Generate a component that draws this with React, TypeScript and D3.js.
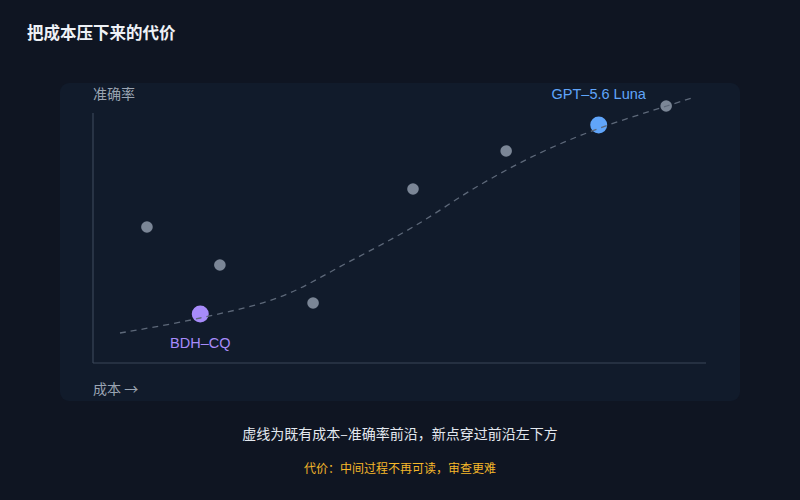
import React from 'react';
import * as d3 from 'd3';

// cost (x) vs accuracy (y), arbitrary 0-100 units
const otherCost: number[] = [8.8, 20.7, 35.9, 52.2, 67.4, 93.5];
const otherAcc: number[] = [54.4, 39.2, 24, 69.6, 84.8, 102.8];

const highlightNames: string[] = ['BDH–CQ', 'GPT–5.6 Luna'];
const highlightCost: number[] = [17.5, 82.5];
const highlightAcc: number[] = [19.6, 95.2];
const highlightColors: string[] = ['#a78bfa', '#60a5fa'];

// existing cost–accuracy frontier (dashed)
const frontierCost: number[] = [4.4, 17.5, 30.5, 41.4, 52.2, 63.1, 72.9, 82.7, 93.6, 97.7];
const frontierAcc: number[] = [12, 18, 26.4, 40, 54.4, 71.2, 84, 94, 102.8, 106];

const title = '把成本压下来的代价';
const yLabel = '准确率';
const xLabel = '成本 →';
const caption = '虚线为既有成本–准确率前沿，新点穿过前沿左下方';
const note = '代价：中间过程不再可读，审查更难';

const W = 800;
const H = 500;
const font = '"Noto Sans CJK SC", "Noto Sans", sans-serif';
const latin = '"Liberation Sans", Arial, sans-serif';

function App() {
    const x = d3.scaleLinear().domain([0, 100]).range([93, 706]);
    const y = d3.scaleLinear().domain([0, 100]).range([363, 113]);

    const frontier = d3.line<number>()
        .x((d, i) => x(frontierCost[i]))
        .y((d) => y(d))
        .curve(d3.curveCatmullRom.alpha(0.5))(frontierAcc);

    return (
        <svg width={W} height={H} style={{ position: 'absolute', left: 0, top: 0, display: 'block' }}
            fontFamily={font}>
            <rect width={W} height={H} fill="#0f1522" />
            <text x={27} y={39} fill="#eef1f6" fontSize={16.5} fontWeight={700}>{title}</text>

            <rect x={60} y={83} width={680} height={318} rx={9} fill="#111b2b" />

            {/* axes */}
            <line x1={x(0)} x2={x(0)} y1={113} y2={y(0)} stroke="#3a4658" strokeWidth={1.2} />
            <line x1={x(0)} x2={x(100)} y1={y(0)} y2={y(0)} stroke="#3a4658" strokeWidth={1.2} />
            <text x={93} y={99} fill="#9aa4b2" fontSize={14}>{yLabel}</text>
            <text x={93} y={394} fill="#9aa4b2" fontSize={14}>{xLabel}</text>

            {otherCost.map((c, i) => (
                <circle key={i} cx={x(c)} cy={y(otherAcc[i])} r={5.8} fill="#7b8696" />
            ))}
            {highlightCost.map((c, i) => (
                <circle key={highlightNames[i]} cx={x(c)} cy={y(highlightAcc[i])} r={8.5} fill={highlightColors[i]} />
            ))}

            <path d={frontier ?? ''} fill="none" stroke="#5d6879" strokeWidth={1.3} strokeDasharray="6 5" />

            {highlightCost.map((c, i) => (
                <text key={highlightNames[i]} x={x(c)} y={i === 0 ? y(highlightAcc[i]) + 34 : y(highlightAcc[i]) - 26}
                    textAnchor="middle" fill={highlightColors[i]} fontSize={14.5}
                    fontFamily={latin}>
                    {highlightNames[i]}
                </text>
            ))}

            <text x={400} y={439} textAnchor="middle" fill="#e3e8ef" fontSize={14}>{caption}</text>
            <text x={400} y={473} textAnchor="middle" fill="#f5b82a" fontSize={12}>{note}</text>
        </svg>
    );
}

export default App;
